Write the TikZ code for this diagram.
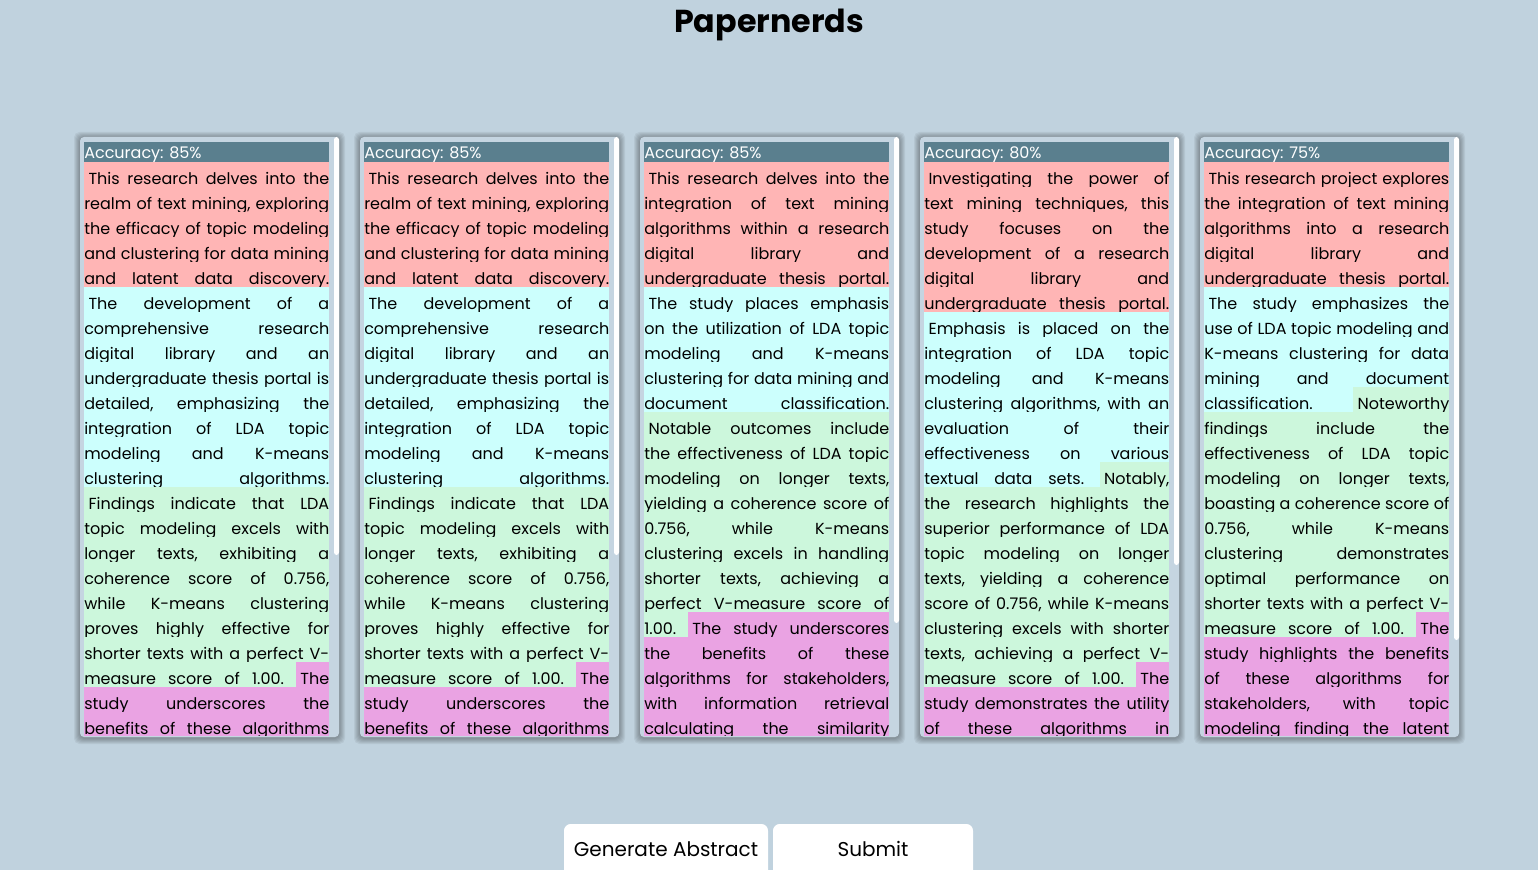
\documentclass[tikz,border=0pt]{standalone}
\usepackage{fontspec}
\setmainfont{Poppins}

\definecolor{pagebg}{HTML}{C0D2DE}
\definecolor{cardbg}{HTML}{C5D5E1}
\definecolor{hdrbg}{HTML}{5A7F8E}
\definecolor{rd}{HTML}{FFB5B5}
\definecolor{cy}{HTML}{CCFFFD}
\definecolor{gn}{HTML}{CCF7DC}
\definecolor{pk}{HTML}{EAA3E3}

\newcommand\abfont{\fontsize{12pt}{18.75pt}\selectfont}
\newlength\abw \setlength\abw{183.75pt}
\newlength\hlht \setlength\hlht{16.5pt}
\newlength\hldp \setlength\hldp{2.25pt}
\newlength\hlrh \setlength\hlrh{16.9pt}
\newlength\hlrd \setlength\hlrd{2.65pt}
\def\hlcol{white}
% one word on its highlight
\newcommand\hlword[1]{\setbox0\hbox{#1}\ht0=0pt \dp0=0pt
    {\color{\hlcol}\vrule height\hlrh depth\hlrd width\wd0}\kern-\wd0\box0}
% stretched space, filled with the highlight
\newcommand\hg{{\color{\hlcol}\leaders\vrule height\hlrh depth\hlrd\hskip\fontdimen2\font plus 1fil minus .4\fontdimen2\font}}
\newcommand\hlfix{{\color{\hlcol}\vrule height\hlrh depth\hlrd width\fontdimen2\font}}
\def\hlloop#1 #2\hlend{\hlword{#1}\ifx\relax#2\relax\else\hg\hlloop#2\hlend\fi}
\newcommand\hs[2]{\def\hlcol{#1}\hlfix\hlloop#2 \hlend}
\newcommand\hc[2]{\def\hlcol{#1}\hlloop#2 \hlend}
\newcommand\abl[1]{\setbox2\hbox to\abw{#1}\ht2=\hlht \dp2=\hldp \box2}

\newcommand\abtxta{\vbox{\offinterlineskip
\abl{\hs{rd}{This research delves into the}}
\abl{\hc{rd}{realm of text mining, exploring}}
\abl{\hc{rd}{the efficacy of topic modeling}}
\abl{\hc{rd}{and clustering for data mining}}
\abl{\hc{rd}{and latent data discovery.}}
\abl{\hs{cy}{The development of a}}
\abl{\hc{cy}{comprehensive research}}
\abl{\hc{cy}{digital library and an}}
\abl{\hc{cy}{undergraduate thesis portal is}}
\abl{\hc{cy}{detailed, emphasizing the}}
\abl{\hc{cy}{integration of LDA topic}}
\abl{\hc{cy}{modeling and K-means}}
\abl{\hc{cy}{clustering algorithms.}}
\abl{\hs{gn}{Findings indicate that LDA}}
\abl{\hc{gn}{topic modeling excels with}}
\abl{\hc{gn}{longer texts, exhibiting a}}
\abl{\hc{gn}{coherence score of 0.756,}}
\abl{\hc{gn}{while K-means clustering}}
\abl{\hc{gn}{proves highly effective for}}
\abl{\hc{gn}{shorter texts with a perfect V-}}
\abl{\hc{gn}{measure score of 1.00.}\hg\hs{pk}{The}}
\abl{\hc{pk}{study underscores the}}
\abl{\hc{pk}{benefits of these algorithms}}}}

\newcommand\abtxtc{\vbox{\offinterlineskip
\abl{\hs{rd}{This research delves into the}}
\abl{\hc{rd}{integration of text mining}}
\abl{\hc{rd}{algorithms within a research}}
\abl{\hc{rd}{digital library and}}
\abl{\hc{rd}{undergraduate thesis portal.}}
\abl{\hs{cy}{The study places emphasis}}
\abl{\hc{cy}{on the utilization of LDA topic}}
\abl{\hc{cy}{modeling and K-means}}
\abl{\hc{cy}{clustering for data mining and}}
\abl{\hc{cy}{document classification.}}
\abl{\hs{gn}{Notable outcomes include}}
\abl{\hc{gn}{the effectiveness of LDA topic}}
\abl{\hc{gn}{modeling on longer texts,}}
\abl{\hc{gn}{yielding a coherence score of}}
\abl{\hc{gn}{0.756, while K-means}}
\abl{\hc{gn}{clustering excels in handling}}
\abl{\hc{gn}{shorter texts, achieving a}}
\abl{\hc{gn}{perfect V-measure score of}}
\abl{\hc{gn}{1.00.}\hg\hs{pk}{The study underscores}}
\abl{\hc{pk}{the benefits of these}}
\abl{\hc{pk}{algorithms for stakeholders,}}
\abl{\hc{pk}{with information retrieval}}
\abl{\hc{pk}{calculating the similarity}}}}

\newcommand\abtxtd{\vbox{\offinterlineskip
\abl{\hs{rd}{Investigating the power of}}
\abl{\hc{rd}{text mining techniques, this}}
\abl{\hc{rd}{study focuses on the}}
\abl{\hc{rd}{development of a research}}
\abl{\hc{rd}{digital library and}}
\abl{\hc{rd}{undergraduate thesis portal.}}
\abl{\hs{cy}{Emphasis is placed on the}}
\abl{\hc{cy}{integration of LDA topic}}
\abl{\hc{cy}{modeling and K-means}}
\abl{\hc{cy}{clustering algorithms, with an}}
\abl{\hc{cy}{evaluation of their}}
\abl{\hc{cy}{effectiveness on various}}
\abl{\hc{cy}{textual data sets.}\hg\hs{gn}{Notably,}}
\abl{\hc{gn}{the research highlights the}}
\abl{\hc{gn}{superior performance of LDA}}
\abl{\hc{gn}{topic modeling on longer}}
\abl{\hc{gn}{texts, yielding a coherence}}
\abl{\hc{gn}{score of 0.756, while K-means}}
\abl{\hc{gn}{clustering excels with shorter}}
\abl{\hc{gn}{texts, achieving a perfect V-}}
\abl{\hc{gn}{measure score of 1.00.}\hg\hs{pk}{The}}
\abl{\hc{pk}{study demonstrates the utility}}
\abl{\hc{pk}{of these algorithms in}}}}

\newcommand\abtxte{\vbox{\offinterlineskip
\abl{\hs{rd}{This research project explores}}
\abl{\hc{rd}{the integration of text mining}}
\abl{\hc{rd}{algorithms into a research}}
\abl{\hc{rd}{digital library and}}
\abl{\hc{rd}{undergraduate thesis portal.}}
\abl{\hs{cy}{The study emphasizes the}}
\abl{\hc{cy}{use of LDA topic modeling and}}
\abl{\hc{cy}{K-means clustering for data}}
\abl{\hc{cy}{mining and document}}
\abl{\hc{cy}{classification.}\hg\hs{gn}{Noteworthy}}
\abl{\hc{gn}{findings include the}}
\abl{\hc{gn}{effectiveness of LDA topic}}
\abl{\hc{gn}{modeling on longer texts,}}
\abl{\hc{gn}{boasting a coherence score of}}
\abl{\hc{gn}{0.756, while K-means}}
\abl{\hc{gn}{clustering demonstrates}}
\abl{\hc{gn}{optimal performance on}}
\abl{\hc{gn}{shorter texts with a perfect V-}}
\abl{\hc{gn}{measure score of 1.00.}\hg\hs{pk}{The}}
\abl{\hc{pk}{study highlights the benefits}}
\abl{\hc{pk}{of these algorithms for}}
\abl{\hc{pk}{stakeholders, with topic}}
\abl{\hc{pk}{modeling finding the latent}}}}

\begin{document}
\begin{tikzpicture}[
        x=0.75pt, y=-0.75pt,
        hdrtext/.style={anchor=base west, inner sep=0, text=white, font=\abfont},
        abtext/.style={anchor=north west, inner sep=0, font=\abfont},
        btntext/.style={inner sep=0, font=\fontsize{15pt}{18pt}\selectfont}
    ]
    \useasboundingbox (0,0) rectangle (1538,870);
    \fill[pagebg] (0,0) rectangle (1538,870);
    \node[anchor=base, font=\bfseries\fontsize{23.8pt}{25pt}\selectfont] (title) at (769,33) {Papernerds};
    % the five abstract cards
    \foreach \cx/\cacc/\cthumb/\ctext in {80/85/555/\abtxta, 360/85/555/\abtxta,
            640/85/623/\abtxtc, 920/80/565/\abtxtd, 1200/75/640/\abtxte}{
        \foreach \sh in {1,...,6}
            \fill[black, opacity=.055, rounded corners=4pt] ({\cx-\sh},{137-\sh+1}) rectangle ({\cx+259+\sh},{737+\sh+1});
        \fill[cardbg, rounded corners=3pt] (\cx,137) rectangle ({\cx+259},737);
        \fill[white, rounded corners=2pt] ({\cx+254},137) rectangle ({\cx+259},\cthumb);
        \fill[hdrbg] ({\cx+4},142) rectangle ({\cx+249},162);
        \node[hdrtext] (hdr\cx) at ({\cx+4},159) {Accuracy: \cacc\%};
        \begin{scope}
            \clip ({\cx+4},162) rectangle ({\cx+249},735);
            \node[abtext] (txt\cx) at ({\cx+4},162) {\ctext};
        \end{scope}
    }
    % buttons
    \fill[white, rounded corners=5pt] (564,824) rectangle (768,890);
    \fill[white, rounded corners=5pt] (773,824) rectangle (973,890);
    \node[btntext] (gen) at (666,849) {Generate Abstract};
    \node[btntext] (sub) at (873,849) {Submit};
\end{tikzpicture}
\end{document}
